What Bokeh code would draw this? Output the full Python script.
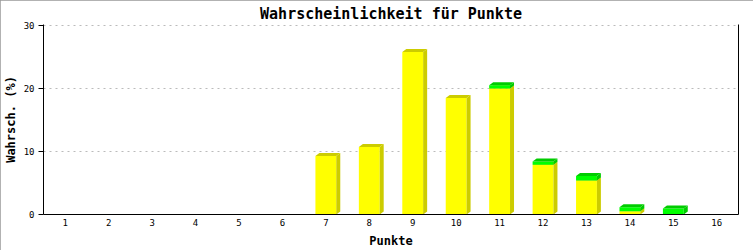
from bokeh.plotting import figure
from bokeh.models import Range1d, FixedTicker, LinearAxis, ColumnDataSource
from bokeh.embed import file_html
from bokeh.resources import INLINE

# ---- data ----
punkte = list(range(1, 17))
tick_labels = [str(i) for i in punkte]
gelb = [0, 0, 0, 0, 0, 0, 9.3, 10.7, 25.8, 18.5, 20.0, 7.9, 5.4, 0.5, 0, 0]
gruen = [0, 0, 0, 0, 0, 0, 0, 0, 0, 0, 0.5, 0.5, 0.7, 0.65, 0.95, 0]
y_ticks = [0, 10, 20, 30]

# ---- style constants ----
BAR_W = 0.48
PX_Y = 6.3       # pixels per percent
DX = 4 / 43.44   # depth offset in x data units (~4px)
DY = 3 / PX_Y    # depth offset in y data units (~3px)
MONO = "DejaVu Sans Mono"

p = figure(width=753, height=250,
           x_range=Range1d(0.5, 16.5), y_range=Range1d(0, y_ticks[-1] + 1 / PX_Y),
           output_backend="svg", toolbar_location=None,
           min_border_left=43, min_border_right=15,
           min_border_top=24, min_border_bottom=36,
           title="Wahrscheinlichkeit für Punkte")
p.styles = {"outline": "2px solid #999999", "outline-offset": "-2px"}
p.background_fill_color = "white"
p.border_fill_color = "white"
p.outline_line_color = None

p.title.align = "center"
p.title.text_font = MONO
p.title.text_font_size = "15px"
p.title.text_font_style = "bold"
p.title.text_color = "black"
p.title.standoff = 3

# ---- 3D stacked bars ----
def segments(bottoms, heights):
    front = dict(l=[], r=[], b=[], t=[])
    side = dict(xs=[], ys=[])
    top = dict(xs=[], ys=[])
    for x, b, h in zip(punkte, bottoms, heights):
        if h <= 0:
            continue
        t = b + h
        xl, xr = x - BAR_W / 2, x + BAR_W / 2
        front["l"].append(xl); front["r"].append(xr)
        front["b"].append(b); front["t"].append(t)
        side["xs"].append([xr, xr + DX, xr + DX, xr])
        side["ys"].append([b, b + DY, t + DY, t])
        top["xs"].append([xl, xl + DX, xr + DX, xr])
        top["ys"].append([t, t + DY, t + DY, t])
    return front, side, top

series = [
    (gelb, [0] * len(gelb), "#ffff00", "#cccc00"),
    (gruen, gelb, "#00ff00", "#00cc00"),
]
for heights, bottoms, c_front, c_dark in series:
    front, side, top = segments(bottoms, heights)
    p.quad(left="l", right="r", bottom="b", top="t",
           source=ColumnDataSource(front), fill_color=c_front, line_color=None)
    p.patches("xs", "ys", source=ColumnDataSource(side),
              fill_color=c_dark, line_color=None)
    p.patches("xs", "ys", source=ColumnDataSource(top),
              fill_color=c_dark, line_color=None)

# ---- axes ----
xa = p.xaxis[0]
xa.ticker = FixedTicker(ticks=punkte)
xa.major_label_overrides = {i: s for i, s in zip(punkte, tick_labels)}
xa.major_tick_out = 0
xa.major_tick_in = 0
xa.minor_tick_out = 0
xa.minor_tick_in = 0
xa.major_label_standoff = 4
xa.axis_label = "Punkte"
xa.axis_label_standoff = 5

ya = p.yaxis[0]
ya.ticker = FixedTicker(ticks=y_ticks)
ya.major_tick_out = 5
ya.major_tick_in = 0
ya.minor_tick_out = 0
ya.minor_tick_in = 0
ya.major_label_standoff = 4
ya.axis_label = "Wahrsch. (%)"
ya.axis_label_standoff = 3

for ax in (xa, ya):
    ax.axis_line_color = "black"
    ax.axis_line_width = 1
    ax.major_tick_line_color = "black"
    ax.major_label_text_font = MONO
    ax.major_label_text_font_size = "9px"
    ax.major_label_text_color = "black"
    ax.axis_label_text_font = MONO
    ax.axis_label_text_font_size = "12px"
    ax.axis_label_text_font_style = "bold"
    ax.axis_label_text_color = "black"

ra = LinearAxis(ticker=FixedTicker(ticks=[]), major_label_text_font_size="0px",
                major_tick_out=0, major_tick_in=0, minor_tick_out=0, minor_tick_in=0,
                axis_line_color="black")
p.add_layout(ra, "right")

p.xgrid.grid_line_color = None
p.ygrid.ticker = FixedTicker(ticks=y_ticks[1:])
p.ygrid.grid_line_color = "#bbbbbb"
p.ygrid.grid_line_dash = "2 4"
p.ygrid.grid_line_width = 1

open("out.html", "w").write(file_html(p, INLINE))
